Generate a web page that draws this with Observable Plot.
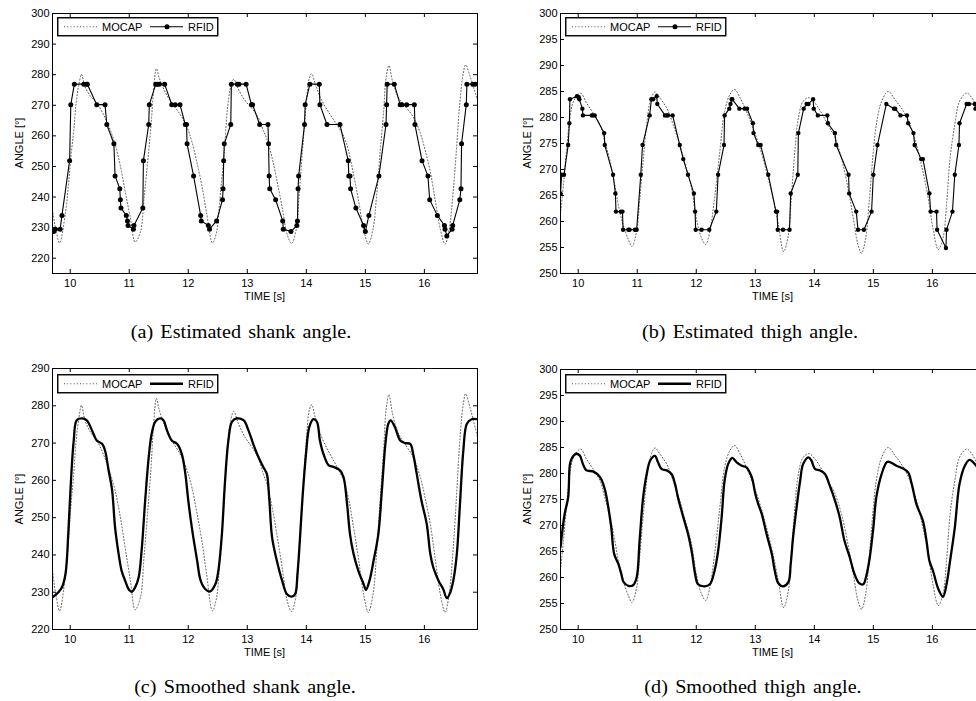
<!DOCTYPE html>
<html><head><meta charset="utf-8">
<script src="https://cdn.jsdelivr.net/npm/d3@7"></script>
<script src="https://cdn.jsdelivr.net/npm/@observablehq/plot@0.6"></script>
<style>
html,body{margin:0;padding:0;background:#fff;overflow:hidden}
#root{position:relative;width:976px;height:701px;overflow:hidden;font-family:"Liberation Sans",Arial,sans-serif;color:#000}
.panel{position:absolute}
.panel svg{max-width:none !important}
.ylab{position:absolute;font-size:11px;line-height:11px;transform:translate(-50%,-50%) rotate(-90deg);white-space:nowrap}
.xlab{position:absolute;font-size:11px;line-height:11px;transform:translateX(-50%);white-space:nowrap}
.cap{position:absolute;font-family:"Liberation Serif","Times New Roman",serif;font-size:18px;line-height:18px;white-space:nowrap;transform:translateX(-50%) scaleX(1.12);word-spacing:2px}
</style></head><body><div id="root"></div>
<script>
// ---------- data ----------
const xTicks = [10, 11, 12, 13, 14, 15, 16];
const shankTicks = [220, 230, 240, 250, 260, 270, 280, 290, 300];
const shankSmoothTicks = [220, 230, 240, 250, 260, 270, 280, 290];
const thighTicks = [250, 255, 260, 265, 270, 275, 280, 285, 290, 295, 300];

// MOCAP shank angle [time, angle]
const shankMocap = [
 [9.70,235.8],[9.76,229],[9.82,225],[9.92,234.9],[9.97,243.8],[10.01,252.8],[10.06,261.8],[10.10,270.7],[10.15,277],[10.19,280.1],
 [10.25,276.1],[10.34,273],[10.45,270.7],[10.56,267.1],[10.68,261.8],[10.76,257.3],[10.85,250.1],[10.93,242],[11.02,233.1],[11.10,225.3],
 [11.19,228.6],[11.25,239.4],[11.31,251],[11.37,263.6],[11.41,274.3],[11.46,282],[11.51,278.8],[11.61,274.3],[11.72,270.7],[11.86,267.1],
 [11.98,262.7],[12.06,258.2],[12.15,251],[12.23,243.8],[12.31,234.9],[12.41,225],[12.48,228.6],[12.54,240.3],[12.61,254.6],[12.66,268],
 [12.72,276.1],[12.77,278.5],[12.85,275.2],[12.96,271.6],[13.08,268.9],[13.19,265.8],[13.27,261.8],[13.33,259.1],[13.42,252.8],[13.50,245.6],
 [13.59,236.7],[13.68,227.5],[13.75,224.8],[13.83,229.5],[13.88,241.2],[13.94,256.4],[14.00,270.7],[14.05,278.8],[14.09,280.3],[14.15,277],
 [14.26,271.6],[14.40,267.1],[14.52,263.6],[14.63,260],[14.71,255.5],[14.80,247.4],[14.88,239.4],[14.97,229.5],[15.05,224.6],[15.13,229.5],
 [15.19,240.3],[15.25,254.6],[15.31,268],[15.35,278.8],[15.40,283],[15.46,277.9],[15.56,272.5],[15.67,269.8],[15.81,266.2],[15.93,260.9],
 [16.01,255.5],[16.10,248.3],[16.18,239.4],[16.27,229.5],[16.35,224.6],[16.42,229.5],[16.49,242.1],[16.55,257.3],[16.60,270.7],[16.66,280.6],
 [16.70,283.2],[16.77,279.7],[16.90,271.6]
];

// RFID estimated shank angle
const shankRfid = [
 [9.72,228.7],[9.75,229.5],[9.83,229.5],[9.86,234],[9.99,251.9],[10.01,270.2],[10.07,276.9],[10.23,276.9],[10.27,276.9],[10.29,276.9],
 [10.45,270.2],[10.59,270.2],[10.62,263.7],[10.74,257.4],[10.76,246.9],[10.84,242.7],[10.85,239.1],[10.86,236.4],[10.95,234],[10.97,232.2],
 [10.98,230.7],[11.07,229.5],[11.08,230.7],[11.23,236.4],[11.24,251.9],[11.33,263.7],[11.34,270.2],[11.45,276.9],[11.48,276.9],[11.51,276.9],
 [11.60,276.9],[11.72,270.2],[11.78,270.2],[11.86,270.2],[11.95,263.7],[11.97,263.7],[11.98,257.4],[12.09,246.9],[12.21,234],[12.22,232.2],
 [12.34,230.7],[12.36,229.5],[12.48,232.2],[12.58,239.1],[12.59,242.7],[12.60,251.9],[12.61,257.4],[12.72,263.7],[12.73,276.9],[12.83,276.9],
 [12.86,276.9],[12.98,276.9],[13.07,270.2],[13.09,270.2],[13.21,263.7],[13.35,263.7],[13.36,257.4],[13.37,246.9],[13.38,242.7],[13.48,239.1],
 [13.60,232.2],[13.61,229.5],[13.74,228.7],[13.84,230.7],[13.85,232.2],[13.86,242.7],[13.87,246.9],[13.97,263.7],[13.98,270.2],[14.06,276.9],
 [14.22,276.9],[14.23,270.2],[14.35,263.7],[14.57,263.7],[14.71,251.9],[14.72,246.9],[14.74,246.9],[14.75,242.7],[14.84,236.4],[14.97,230.7],
 [15.00,228.7],[15.06,234],[15.23,246.9],[15.35,263.7],[15.36,270.2],[15.37,276.9],[15.49,276.9],[15.59,270.2],[15.62,270.2],[15.70,270.2],
 [15.83,270.2],[15.84,263.7],[15.96,251.9],[16.06,246.9],[16.09,239.1],[16.22,234],[16.34,230.7],[16.35,229.5],[16.38,227.3],[16.47,229.5],
 [16.48,230.7],[16.60,239.1],[16.62,242.7],[16.63,257.4],[16.71,270.2],[16.72,276.9],[16.82,276.9],[16.86,276.9]
];

// RFID smoothed shank angle
const shankSmooth = [
 [9.70,228.6],[9.80,230],[9.86,231.3],[9.92,234.9],[9.97,246.5],[10.01,259.1],[10.06,270.7],[10.11,276.1],[10.20,276.6],[10.28,276.1],
 [10.37,273.4],[10.45,270.7],[10.54,269.8],[10.59,268],[10.65,262.7],[10.71,257.3],[10.76,247.4],[10.82,240.3],[10.87,235.8],[10.93,233.1],
 [10.99,230.8],[11.04,230.1],[11.10,231.3],[11.16,234],[11.21,241.2],[11.27,254.6],[11.33,266.2],[11.38,272.5],[11.44,275.7],[11.52,276.6],
 [11.58,276.1],[11.64,273.4],[11.72,270.7],[11.81,269.8],[11.89,267.1],[11.95,261.8],[12.00,254.6],[12.06,247.4],[12.15,238.5],[12.21,233.1],
 [12.29,230.8],[12.37,230.2],[12.46,232.2],[12.51,235.8],[12.57,245.6],[12.62,259.1],[12.68,270.7],[12.74,275.7],[12.82,276.6],[12.94,276.1],
 [13.02,273.4],[13.10,269.8],[13.19,266.2],[13.27,263.6],[13.33,261.8],[13.37,255.5],[13.42,244.7],[13.50,238.5],[13.59,233.1],[13.67,229.5],
 [13.75,228.8],[13.81,229.5],[13.85,234.9],[13.89,243.8],[13.94,256.4],[14.00,268],[14.05,274.3],[14.12,276.4],[14.18,275.7],[14.23,270.7],
 [14.29,267.1],[14.38,264],[14.46,263.6],[14.57,262.7],[14.63,260.9],[14.69,253.7],[14.74,245.6],[14.80,240.3],[14.88,235.8],[14.97,232.2],
 [15.01,230.6],[15.07,233.1],[15.14,238.5],[15.22,245.6],[15.28,257.3],[15.34,269.8],[15.39,275.2],[15.43,276.1],[15.50,274.3],[15.59,270.7],
 [15.67,270],[15.76,269.8],[15.81,267.1],[15.87,261.8],[15.95,254.6],[16.04,248.3],[16.10,240.3],[16.15,236.7],[16.24,233.1],[16.32,230.8],
 [16.38,228.4],[16.44,230],[16.49,233.1],[16.55,240.3],[16.60,252.8],[16.66,268],[16.72,275.2],[16.80,276.4],[16.90,276.4]
];

// MOCAP thigh angle
const thighMocap = [
 [9.70,261.5],[9.75,267.1],[9.80,273.5],[9.86,279.9],[9.92,283.1],[10.04,284.7],[10.14,282.8],[10.25,280.9],[10.37,278.6],[10.45,275.4],
 [10.54,271.6],[10.62,267.1],[10.68,263.2],[10.76,259.4],[10.85,256.5],[10.91,255.2],[10.99,258.1],[11.04,263.9],[11.10,271.6],[11.16,278.6],
 [11.22,283.1],[11.30,284.9],[11.38,283.8],[11.50,281.8],[11.61,278.6],[11.72,274.8],[11.83,270.3],[11.92,266.4],[12.00,260.7],[12.09,256.8],
 [12.16,255.6],[12.23,258.1],[12.31,264.5],[12.40,273.5],[12.48,281.2],[12.57,284.4],[12.65,285.4],[12.74,283.8],[12.85,281.2],[12.96,278],
 [13.08,274.1],[13.19,269.6],[13.30,264.5],[13.39,259.4],[13.48,254.2],[13.56,257.4],[13.61,264.5],[13.67,273.5],[13.73,279.9],[13.81,283.1],
 [13.91,283.8],[14.01,282.8],[14.12,280.9],[14.23,278.6],[14.35,276.1],[14.46,272.2],[14.57,266.4],[14.66,260.7],[14.74,255.5],[14.80,253.9],
 [14.87,256.8],[14.93,263.9],[14.99,272.2],[15.05,278.6],[15.14,283.1],[15.25,285],[15.37,283.4],[15.51,281.2],[15.62,278.6],[15.73,274.8],
 [15.84,269.6],[15.93,264.5],[16.01,258.7],[16.10,254.6],[16.18,256.8],[16.24,263.2],[16.30,272.2],[16.38,278.6],[16.46,283.1],[16.58,284.7],
 [16.69,283.4],[16.78,281],[16.90,277]
];

// RFID estimated thigh angle
const thighRfid = [
 [9.70,265.4],[9.72,269],[9.76,269],[9.83,274.7],[9.85,278.9],[9.86,283.5],[9.98,284.1],[10.01,283.9],[10.02,283.5],[10.07,281.7],
 [10.08,280.4],[10.23,280.4],[10.25,280.4],[10.28,280.4],[10.44,277],[10.45,274.7],[10.59,269],[10.63,265.4],[10.64,261.9],[10.72,261.9],
 [10.75,261.9],[10.76,258.4],[10.85,258.4],[10.87,258.4],[10.96,258.4],[10.99,258.4],[11.06,269],[11.09,274.7],[11.21,280.4],[11.24,283.5],
 [11.27,283.5],[11.33,284.1],[11.34,282.6],[11.47,280.4],[11.50,280.4],[11.52,280.4],[11.60,280.4],[11.72,274.7],[11.78,272],[11.86,269],
 [11.96,265.4],[11.98,261.9],[11.99,258.4],[12.09,258.4],[12.22,258.4],[12.34,261.9],[12.37,269],[12.47,274.7],[12.48,280.4],[12.56,281.7],
 [12.58,282.6],[12.60,283.5],[12.61,283.5],[12.73,281.7],[12.82,281.7],[12.86,281.7],[12.96,278.9],[12.97,277],[13.05,274.7],[13.09,274.7],
 [13.22,269],[13.35,261.9],[13.37,261.9],[13.38,258.4],[13.47,258.4],[13.58,258.4],[13.60,265.4],[13.72,269],[13.73,277],[13.82,281.7],
 [13.87,282.6],[13.90,282.6],[13.98,283.5],[13.99,281.7],[14.06,280.4],[14.22,280.4],[14.23,278.9],[14.35,277],[14.37,274.7],[14.58,269],
 [14.59,265.4],[14.71,261.9],[14.74,258.4],[14.84,258.4],[14.97,261.9],[15.00,269],[15.07,274.7],[15.22,282.6],[15.35,281.7],[15.37,281.7],
 [15.46,280.4],[15.57,280.4],[15.59,278.9],[15.68,277],[15.70,274.7],[15.81,272],[15.84,272],[15.95,265.4],[15.97,261.9],[16.07,261.9],
 [16.08,258.4],[16.23,254.9],[16.24,258.4],[16.34,261.9],[16.38,269],[16.45,274.7],[16.46,278.9],[16.58,282.6],[16.62,282.6],[16.72,282.6],
 [16.73,281.7],[16.83,282.6],[16.88,282.6]
];

// RFID smoothed thigh angle
const thighSmooth = [
 [9.70,265.8],[9.77,272.2],[9.83,275.4],[9.86,281.8],[9.90,283.1],[9.97,283.8],[10.03,283.4],[10.08,281.8],[10.14,280.6],[10.25,280.4],
 [10.37,279.3],[10.45,277],[10.51,273.5],[10.56,269.6],[10.61,264.5],[10.68,262.6],[10.73,260.7],[10.77,259.1],[10.85,258.4],[10.93,258.5],
 [10.99,260],[11.04,267.1],[11.10,275.4],[11.16,279.9],[11.22,282.5],[11.30,283.4],[11.35,282.2],[11.41,280.9],[11.50,280.6],[11.58,279.9],
 [11.64,278],[11.69,275.4],[11.78,271.6],[11.86,268.4],[11.93,264.5],[11.98,260.7],[12.03,258.7],[12.14,258.3],[12.23,258.7],[12.31,261.3],
 [12.37,265.1],[12.43,271.6],[12.48,278.6],[12.54,281.8],[12.61,283],[12.68,282.2],[12.77,281.5],[12.85,281.2],[12.94,279.3],[13.00,276.1],
 [13.05,274.1],[13.11,272.2],[13.19,268.4],[13.28,264.5],[13.33,261.3],[13.39,258.9],[13.47,258.3],[13.56,259.1],[13.60,262.6],[13.64,267.7],
 [13.70,273.5],[13.76,278.6],[13.81,281.8],[13.90,283.1],[13.95,282.5],[14.01,280.9],[14.09,280.6],[14.18,279.9],[14.26,277.7],[14.35,274.8],
 [14.43,271.6],[14.51,267.1],[14.60,263.9],[14.68,260.7],[14.76,258.9],[14.83,258.7],[14.88,260.3],[14.94,263.9],[15.00,269.6],[15.05,275.4],
 [15.14,279.9],[15.23,282.2],[15.28,282.2],[15.39,281.5],[15.51,280.9],[15.59,280.2],[15.65,278],[15.73,274.1],[15.84,270.9],[15.90,267.1],
 [15.95,263.2],[16.01,261.3],[16.10,257.8],[16.18,256.3],[16.24,258.7],[16.30,263.2],[16.38,269.6],[16.46,278],[16.55,281.5],[16.63,282.6],
 [16.72,281.8],[16.80,280.5],[16.90,279]
];

// ---------- drawing ----------
const root = document.getElementById("root");
const toRows = arr => arr.map(([t, v]) => ({t, v}));

function panel({left, top, mLeft, width, frameH, yDomain, yTicks, mocap, rfid, raw, dotR}) {
  const mTop = 13, mBottom = 27, mRight = 13;
  const height = mTop + frameH + mBottom;
  const fw = width - mLeft - mRight;
  const m = toRows(mocap), r = toRows(rfid);
  const marks = [
    Plot.line(m, {x: "t", y: "v", stroke: "#555", strokeWidth: 1, strokeDasharray: "1,2.2", curve: "catmull-rom", clip: true}),
    Plot.line(r, {x: "t", y: "v", stroke: "black", strokeWidth: raw ? 1.1 : 2.3, curve: raw ? "linear" : "catmull-rom", clip: true})
  ];
  if (raw) marks.push(Plot.dot(r, {x: "t", y: "v", r: dotR, fill: "black", stroke: "none", clip: true}));
  marks.push(
    Plot.tickX(xTicks, {x: d => d, insetTop: frameH - 4, stroke: "black"}),
    Plot.tickX(xTicks, {x: d => d, insetBottom: frameH - 4, stroke: "black"}),
    Plot.tickY(yTicks, {y: d => d, insetRight: fw - 4, stroke: "black"}),
    Plot.tickY(yTicks, {y: d => d, insetLeft: fw - 4, stroke: "black"}),
    Plot.axisX(xTicks, {tickSize: 0, tickPadding: 6, fontSize: 11, label: null}),
    Plot.axisY(yTicks, {tickSize: 0, tickPadding: 3, fontSize: 11, label: null}),
    Plot.frame({stroke: "black", strokeWidth: 1})
  );
  const chart = Plot.plot({
    width, height,
    marginLeft: mLeft, marginRight: mRight, marginTop: mTop, marginBottom: mBottom,
    x: {domain: [9.7, 16.9]},
    y: {domain: yDomain},
    style: {fontFamily: "'Liberation Sans', Arial, sans-serif", fontSize: "11px", background: "white", color: "black", overflow: "visible", maxWidth: "none"},
    marks
  });
  chart.style.maxWidth = "none";
  chart.style.width = width + "px";
  const div = document.createElement("div");
  div.className = "panel";
  div.style.left = left + "px";
  div.style.top = top + "px";
  div.style.width = width + "px";
  div.appendChild(chart);
  root.appendChild(div);
}

function legend(left, top, raw) {
  const svg = d3.create("svg").attr("width", 163).attr("height", 21)
    .style("position", "absolute").style("left", left + "px").style("top", top + "px")
    .style("font-family", "'Liberation Sans', Arial, sans-serif").style("font-size", "11px");
  svg.append("rect").attr("x", 0.75).attr("y", 0.75).attr("width", 160).attr("height", 18)
    .attr("fill", "white").attr("stroke", "black").attr("stroke-width", 1.4);
  svg.append("line").attr("x1", 7).attr("x2", 40).attr("y1", 9.75).attr("y2", 9.75)
    .attr("stroke", "#555").attr("stroke-dasharray", "1,2.2");
  svg.append("text").attr("x", 45).attr("y", 13.8).text("MOCAP");
  svg.append("line").attr("x1", 93).attr("x2", 126).attr("y1", 9.75).attr("y2", 9.75)
    .attr("stroke", "black").attr("stroke-width", raw ? 1.1 : 2.3);
  if (raw) svg.append("circle").attr("cx", 110).attr("cy", 9.75).attr("r", 2.5).attr("fill", "black");
  svg.append("text").attr("x", 131).attr("y", 13.8).text("RFID");
  root.appendChild(svg.node());
}

function addText(cls, text, x, y) {
  const d = document.createElement("div");
  d.className = cls;
  d.textContent = text;
  d.style.left = x + "px";
  d.style.top = y + "px";
  root.appendChild(d);
}

panel({left: 0, top: 0, mLeft: 52, width: 490, frameH: 260, yDomain: [215, 300], yTicks: shankTicks, mocap: shankMocap, rfid: shankRfid, raw: true, dotR: 2.5});
panel({left: 486, top: 0, mLeft: 74, width: 512, frameH: 260, yDomain: [250, 300], yTicks: thighTicks, mocap: thighMocap, rfid: thighRfid, raw: true, dotR: 2.2});
panel({left: 0, top: 355, mLeft: 52, width: 490, frameH: 261, yDomain: [220, 290], yTicks: shankSmoothTicks, mocap: shankMocap, rfid: shankSmooth, raw: false});
panel({left: 486, top: 356, mLeft: 74, width: 512, frameH: 260, yDomain: [250, 300], yTicks: thighTicks, mocap: thighMocap, rfid: thighSmooth, raw: false});

legend(57, 17, true);
legend(565, 17, true);
legend(57, 374, false);
legend(565, 374, false);

addText("ylab", "ANGLE [°]", 19, 143);
addText("ylab", "ANGLE [°]", 526.5, 143);
addText("ylab", "ANGLE [°]", 19, 498.5);
addText("ylab", "ANGLE [°]", 526.5, 499);
addText("xlab", "TIME [s]", 264.5, 291);
addText("xlab", "TIME [s]", 772.5, 291);
addText("xlab", "TIME [s]", 264.5, 647);
addText("xlab", "TIME [s]", 772.5, 647);
addText("cap", "(a) Estimated shank angle.", 241, 323);
addText("cap", "(b) Estimated thigh angle.", 750, 323);
addText("cap", "(c) Smoothed shank angle.", 245, 678);
addText("cap", "(d) Smoothed thigh angle.", 753, 678);
</script></body></html>
